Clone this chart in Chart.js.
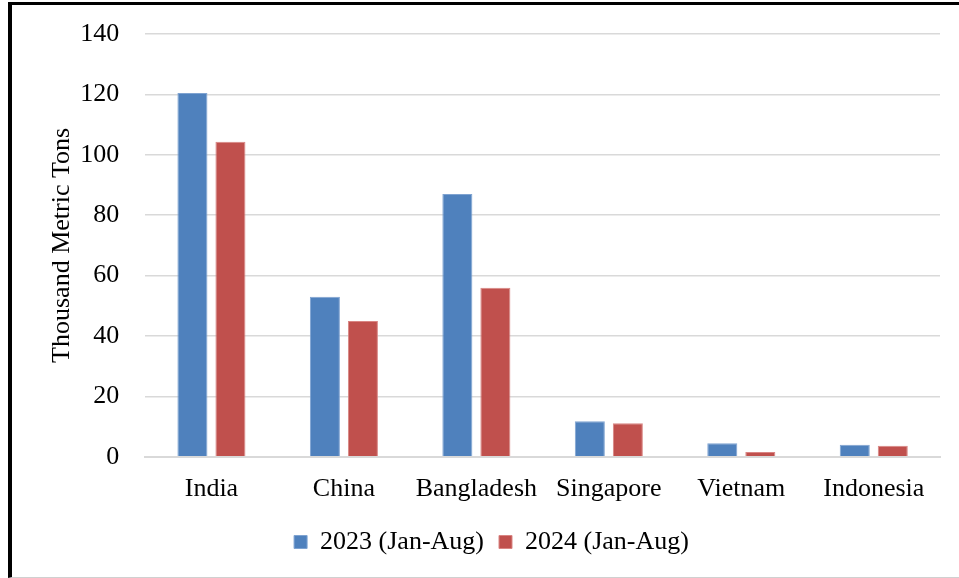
<!DOCTYPE html>
<html>
<head>
<meta charset="utf-8">
<script src="https://cdn.jsdelivr.net/npm/chart.js@4"></script>
<style>
html,body{margin:0;padding:0;background:#fff;}
#frame{position:absolute;left:8px;top:2px;width:951px;height:572px;border-top:3px solid #000;border-left:4px solid #000;border-bottom:1px solid #d0d0d0;box-sizing:content-box;}
#wrap{position:absolute;left:0;top:0;width:951px;height:572px;}
</style>
</head>
<body>
<div id="frame"><div id="wrap"><canvas id="c"></canvas></div></div>
<script>
const categories = ["India", "China", "Bangladesh", "Singapore", "Vietnam", "Indonesia"];
const series2023 = [120.5, 53, 87, 11.8, 4.5, 4.0];
const series2024 = [104.3, 45, 56, 11.1, 1.6, 3.7];
const seriesNames = ["2023 (Jan-Aug)", "2024 (Jan-Aug)"];
const yTicks = [0, 20, 40, 60, 80, 100, 120, 140];

const FONT = "'Liberation Serif', 'Times New Roman', serif";
new Chart(document.getElementById('c'), {
  type: 'bar',
  data: {
    labels: categories,
    datasets: [
      {label: seriesNames[0], data: series2023, backgroundColor: '#4F81BD', borderColor: '#7fa3d1', borderWidth: 1, categoryPercentage: 0.574, barPercentage: 0.79},
      {label: seriesNames[1], data: series2024, backgroundColor: '#C0504D', borderColor: '#d98583', borderWidth: 1, categoryPercentage: 0.574, barPercentage: 0.79}
    ]
  },
  options: {
    responsive: true,
    maintainAspectRatio: false,
    animation: false,
    layout: {padding: {left: 31, right: 23, top: 29, bottom: 12}},
    plugins: {
      legend: {
        position: 'bottom',
        labels: {font: {family: FONT, size: 26}, color: '#000', boxWidth: 13, boxHeight: 13, padding: 15, useBorderRadius: false}
      },
      tooltip: {enabled: false}
    },
    scales: {
      x: {
        grid: {display: false},
        border: {display: true, color: '#d9d9d9', width: 2},
        ticks: {font: {family: FONT, size: 26}, color: '#000', padding: 9}
      },
      y: {
        min: 0, max: 140,
        afterBuildTicks: (ax) => { ax.ticks = yTicks.map(v => ({value: v})); },
        grid: {color: '#d9d9d9', lineWidth: 1.5, drawTicks: true, tickLength: 24, tickColor: 'rgba(0,0,0,0)'},
        border: {display: false},
        ticks: {font: {family: FONT, size: 26}, color: '#000', padding: 2},
        title: {display: true, text: 'Thousand Metric Tons', font: {family: FONT, size: 26}, color: '#000', padding: {top: 4, bottom: 0}}
      }
    }
  }
});
</script>
</body>
</html>
